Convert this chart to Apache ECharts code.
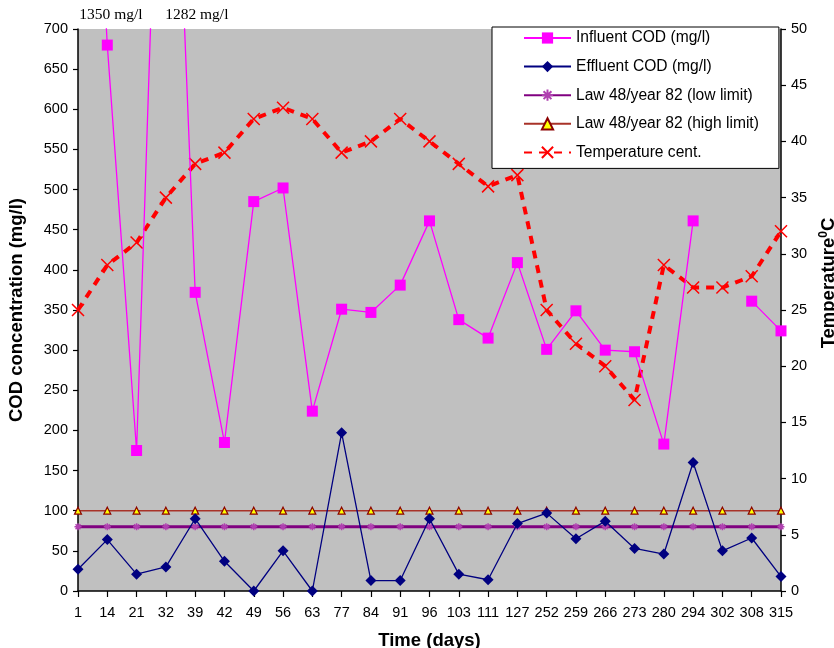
<!DOCTYPE html>
<html>
<head>
<meta charset="utf-8">
<script src="https://cdn.jsdelivr.net/npm/echarts@6/dist/echarts.min.js"></script>
<style>
html,body{margin:0;padding:0;background:#fff;}
#chart{width:834px;height:648px;}
</style>
</head>
<body>
<div id="chart"></div>
<script>
// ---- data ----
var days = ['1','14','21','32','39','42','49','56','63','77','84','91','96','103','111','127','252','259','266','273','280','294','302','308','315'];
var influentCOD = [1350,680,175,1282,372,185,485,502,224,351,347,381,461,338,315,409,301,349,300,298,183,461,null,361,324];
var effluentCOD = [27,64,21,30,90,37,0,50,0,197,13,13,90,21,14,84,97,65,87,53,46,160,50,66,18];
var lowLimit = [80,80,80,80,80,80,80,80,80,80,80,80,80,80,80,80,80,80,80,80,80,80,80,80,80];
var highLimit = [100,100,100,100,100,100,100,100,100,100,100,100,100,100,100,100,100,100,100,100,100,100,100,100,100];
var temperature = [25,29,31,35,38,39,42,43,42,39,40,42,40,38,36,37,25,22,20,17,29,27,27,28,32];
var offscaleNotes = [{idx:1, text:'1350 mg/l', dx:-28},{idx:4, text:'1282 mg/l', dx:-30}];

var FONT = '"Liberation Sans", Arial, sans-serif';
var chart = echarts.init(document.getElementById('chart'));
var xSym = 'path://M0,0L10,10M10,0L0,10';
var starSym = 'path://M0,5L10,5M5,0L5,10M1.5,1.5L8.5,8.5M8.5,1.5L1.5,8.5';

var option = {
  animation: false,
  backgroundColor: '#ffffff',
  textStyle: {fontFamily: FONT},
  grid: {left: 78, right: 53, top: 29, bottom: 57, show: true, backgroundColor: '#C0C0C0', borderWidth: 0,
         containLabel: false, outerBoundsMode: 'none'},
  legend: {
    orient: 'vertical',
    left: 492, top: 27,
    backgroundColor: '#ffffff',
    borderColor: '#000000', borderWidth: 1,
    padding: [3, 20, 8, 31],
    itemWidth: 47, itemHeight: 14, itemGap: 12.6,
    textStyle: {fontFamily: FONT, fontSize: 15.6, color: '#000', lineHeight: 14},
    data: ['Influent COD (mg/l)','Effluent COD (mg/l)','Law 48/year 82 (low limit)','Law 48/year 82 (high limit)','Temperature cent.']
  },
  xAxis: {
    type: 'category', data: days, boundaryGap: false,
    name: 'Time (days)', nameLocation: 'middle', nameGap: 40,
    nameTextStyle: {fontFamily: FONT, fontSize: 18.5, fontWeight: 'bold', color: '#000', verticalAlign: 'top'},
    axisLine: {lineStyle: {color: '#000', width: 1.5}},
    axisTick: {show: true, interval: 0, length: 6, lineStyle: {color: '#000', width: 1.2}},
    axisLabel: {interval: 0, fontSize: 14.5, color: '#000', margin: 14, fontFamily: FONT},
    splitLine: {show: false}
  },
  yAxis: [{
    type: 'value', min: 0, max: 700, interval: 50, position: 'left',
    name: 'COD concentration (mg/l)', nameLocation: 'middle', nameGap: 52, nameRotate: 90,
    nameTextStyle: {fontFamily: FONT, fontSize: 18.5, fontWeight: 'bold', color: '#000'},
    axisLine: {show: true, lineStyle: {color: '#000', width: 1.5}},
    axisTick: {show: true, length: 5, lineStyle: {color: '#000', width: 1.2}},
    axisLabel: {fontSize: 14.5, color: '#000', margin: 10, fontFamily: FONT},
    splitLine: {show: false}
  },{
    type: 'value', min: 0, max: 50, interval: 5, position: 'right',
    name: '{n|Temperature}{s|0}{n|C}', nameLocation: 'middle', nameGap: 27, nameRotate: 90,
    nameTextStyle: {
      padding: [0, 0, 0, 54],
      rich: {
        n: {fontFamily: FONT, fontSize: 18.5, fontWeight: 'bold', color: '#000'},
        s: {fontFamily: FONT, fontSize: 12, fontWeight: 'bold', color: '#000', verticalAlign: 'top', padding: [0,0,9,0]}
      }
    },
    axisLine: {show: true, lineStyle: {color: '#000', width: 1.5}},
    axisTick: {show: true, length: 5, lineStyle: {color: '#000', width: 1.2}},
    axisLabel: {fontSize: 14.5, color: '#000', margin: 10, fontFamily: FONT},
    splitLine: {show: false}
  }],
  series: [{
    name: 'Influent COD (mg/l)', type: 'line', data: influentCOD, yAxisIndex: 0,
    connectNulls: false, clip: true,
    symbol: 'rect', symbolSize: 11,
    lineStyle: {color: '#FF00FF', width: 1.3},
    itemStyle: {color: '#FF00FF'}, z: 4
  },{
    name: 'Effluent COD (mg/l)', type: 'line', data: effluentCOD, yAxisIndex: 0,
    symbol: 'diamond', symbolSize: 11,
    lineStyle: {color: '#000080', width: 1.3},
    itemStyle: {color: '#000080'}, z: 5
  },{
    name: 'Law 48/year 82 (low limit)', type: 'line', data: lowLimit, yAxisIndex: 0,
    symbol: starSym, symbolSize: 7,
    lineStyle: {color: '#800080', width: 3},
    itemStyle: {color: '#B040B0', borderColor: '#B040B0', borderWidth: 1.5}, z: 3
  },{
    name: 'Law 48/year 82 (high limit)', type: 'line', data: highLimit, yAxisIndex: 0,
    symbol: 'triangle', symbolSize: 7,
    lineStyle: {color: '#A83228', width: 1.5},
    itemStyle: {color: '#FFFF00', borderColor: '#8B0000', borderWidth: 1.2}, z: 3
  },{
    name: 'Temperature cent.', type: 'line', data: temperature, yAxisIndex: 1,
    symbol: xSym, symbolSize: 12,
    lineStyle: {color: '#FF0000', width: 4, type: [8, 7], cap: 'butt'},
    itemStyle: {color: '#FF0000', borderColor: '#FF0000', borderWidth: 1.5}, z: 2
  }]
};
chart.setOption(option);

var gtop = 29;
var graphics = offscaleNotes.map(function (n) {
  var x = chart.convertToPixel({xAxisIndex: 0}, n.idx);
  return {
    type: 'text', left: x + n.dx, top: gtop - 22,
    style: {text: n.text, fontFamily: '"Liberation Serif", "Times New Roman", serif', fontSize: 15.5, fill: '#000'}
  };
});
chart.setOption({graphic: graphics});
</script>
</body>
</html>
